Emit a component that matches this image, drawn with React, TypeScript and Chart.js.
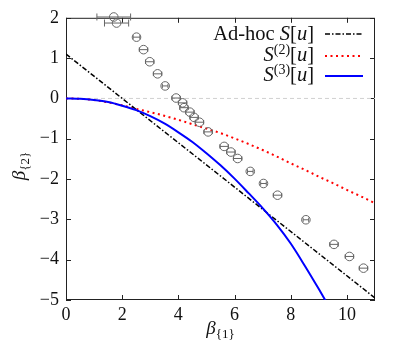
import React, { useEffect, useRef } from "react";
import { Chart, registerables } from "chart.js";

Chart.register(...registerables);

const X_TICKS = [0, 2, 4, 6, 8, 10];
const Y_TICKS = [-5, -4, -3, -2, -1, 0, 1, 2];

// Measured data points (beta1, beta2) with horizontal error bars
const dataX = [1.7, 1.8, 2.51, 2.76, 2.98, 3.26, 3.53, 3.92, 4.15, 4.2, 4.41, 4.56, 4.75, 5.06, 5.63, 5.87, 6.11, 6.56, 7.03, 7.53, 8.54, 9.54, 10.09, 10.59];
const dataY = [2.02, 1.87, 1.52, 1.21, 0.91, 0.61, 0.31, 0.01, -0.11, -0.23, -0.34, -0.47, -0.59, -0.83, -1.19, -1.33, -1.49, -1.81, -2.11, -2.4, -3.01, -3.62, -3.92, -4.21];
const dataXErr = [0.6, 0.43, 0.12, 0.15, 0.15, 0.15, 0.1, 0.15, 0.15, 0.15, 0.15, 0.15, 0.15, 0.15, 0.15, 0.15, 0.15, 0.1, 0.1, 0.15, 0.1, 0.15, 0.15, 0.15];

// Ad-hoc S[u]
const adhocX = [0, 11];
const adhocY = [1.1, -4.95];

// S^(2)[u]
const s2X = [0, 0.5, 1, 1.5, 2, 2.5, 3, 3.5, 4, 4.5, 5, 5.5, 6, 6.5, 7, 7.5, 8, 8.5, 9, 9.5, 10, 10.5, 11];
const s2Y = [0, -0.01, -0.04, -0.1, -0.17, -0.26, -0.34, -0.43, -0.53, -0.64, -0.75, -0.86, -0.99, -1.13, -1.28, -1.44, -1.61, -1.77, -1.94, -2.1, -2.27, -2.43, -2.6];

// S^(3)[u]
const s3X = [0, 0.5, 1, 1.5, 2, 2.5, 3, 3.5, 4, 4.5, 5, 5.5, 6, 6.5, 7, 7.5, 8, 8.5, 9, 9.5];
const s3Y = [0, -0.01, -0.04, -0.09, -0.18, -0.29, -0.44, -0.62, -0.84, -1.08, -1.36, -1.66, -1.99, -2.35, -2.72, -3.13, -3.6, -4.15, -4.73, -5.33];

const zeroX = [0, 11];
const zeroY = [0, 0];

const FAMILY = "'Liberation Serif', 'DejaVu Serif', serif";

type Seg = { t: string; it?: boolean; sz: number; dy?: number };

function drawRich(ctx: CanvasRenderingContext2D, segs: Seg[], x: number, y: number, align: "left" | "right" | "center") {
  const widths: number[] = [];
  let total = 0;
  segs.forEach((s) => {
    ctx.font = `${s.it ? "italic " : ""}${s.sz}px ${FAMILY}`;
    const w = ctx.measureText(s.t).width;
    widths.push(w);
    total += w;
  });
  let cx = align === "right" ? x - total : align === "center" ? x - total / 2 : x;
  ctx.textAlign = "left";
  ctx.textBaseline = "alphabetic";
  segs.forEach((s, i) => {
    ctx.font = `${s.it ? "italic " : ""}${s.sz}px ${FAMILY}`;
    ctx.fillText(s.t, cx, y + (s.dy || 0));
    cx += widths[i];
  });
}

const framePlugin = {
  id: "frame",
  beforeDatasetsDraw(chart: any) {
    const { ctx, chartArea: a, scales } = chart;
    ctx.save();
    ctx.strokeStyle = "#222";
    ctx.lineWidth = 1;
    ctx.strokeRect(a.left + 0.5, a.top + 0.5, a.right - a.left - 1, a.bottom - a.top - 1);
    const tl = 5;
    ctx.beginPath();
    X_TICKS.forEach((v) => {
      const px = Math.round(scales.x.getPixelForValue(v)) + 0.5;
      ctx.moveTo(px, a.bottom);
      ctx.lineTo(px, a.bottom - tl);
      ctx.moveTo(px, a.top);
      ctx.lineTo(px, a.top + tl);
    });
    Y_TICKS.forEach((v) => {
      const py = Math.round(scales.y.getPixelForValue(v)) + 0.5;
      ctx.moveTo(a.left, py);
      ctx.lineTo(a.left + tl, py);
      ctx.moveTo(a.right, py);
      ctx.lineTo(a.right - tl, py);
    });
    ctx.stroke();
    ctx.restore();
  },
  afterDatasetsDraw(chart: any) {
    const { ctx, scales } = chart;
    ctx.save();
    ctx.strokeStyle = "#666";
    ctx.lineWidth = 1;
    ctx.beginPath();
    dataX.forEach((x, i) => {
      const py = scales.y.getPixelForValue(dataY[i]);
      const x0 = scales.x.getPixelForValue(x - dataXErr[i]);
      const x1 = scales.x.getPixelForValue(x + dataXErr[i]);
      const cap = dataXErr[i] > 0.3 ? 3.5 : 2.2;
      ctx.moveTo(x0, py);
      ctx.lineTo(x1, py);
      ctx.moveTo(x0, py - cap);
      ctx.lineTo(x0, py + cap);
      ctx.moveTo(x1, py - cap);
      ctx.lineTo(x1, py + cap);
    });
    ctx.stroke();
    ctx.restore();
  },
  afterDraw(chart: any) {
    const { ctx, chartArea: a } = chart;
    ctx.save();
    ctx.fillStyle = "#111";
    // x title
    const cxm = (a.left + a.right) / 2;
    drawRich(ctx, [
      { t: "β", it: true, sz: 19 },
      { t: "{1}", sz: 13, dy: 4 },
    ], cxm, 334, "center");
    // y title
    ctx.save();
    ctx.translate(25, 166);
    ctx.rotate(-Math.PI / 2);
    drawRich(ctx, [
      { t: "β", it: true, sz: 19 },
      { t: "{2}", sz: 13, dy: 4 },
    ], 0, 0, "center");
    ctx.restore();

    // legend
    const tx = 314;
    const lx0 = 325;
    const lx1 = 363;
    const big = 20.5;
    const sup = 14;
    const rows = [
      { segs: [{ t: "Ad-hoc ", sz: big }, { t: "S", it: true, sz: big }, { t: "[", sz: big }, { t: "u", it: true, sz: big }, { t: "]", sz: big }], base: 40, ly: 34, color: "#000", dash: [5, 2, 1.5, 2], w: 1.5 },
      { segs: [{ t: "S", it: true, sz: big }, { t: "(2)", sz: sup, dy: -7 }, { t: "[", sz: big }, { t: "u", it: true, sz: big }, { t: "]", sz: big }], base: 61, ly: 56, color: "#ff0000", dash: [2, 3.5], w: 2 },
      { segs: [{ t: "S", it: true, sz: big }, { t: "(3)", sz: sup, dy: -7 }, { t: "[", sz: big }, { t: "u", it: true, sz: big }, { t: "]", sz: big }], base: 81, ly: 76, color: "#0000ff", dash: [], w: 2 },
    ];
    rows.forEach((r) => {
      ctx.fillStyle = "#111";
      drawRich(ctx, r.segs as Seg[], tx, r.base, "right");
      ctx.beginPath();
      ctx.strokeStyle = r.color;
      ctx.lineWidth = r.w;
      ctx.setLineDash(r.dash);
      ctx.moveTo(lx0, r.ly);
      ctx.lineTo(lx1, r.ly);
      ctx.stroke();
      ctx.setLineDash([]);
    });
    ctx.restore();
  },
};

const fmt = (v: number) => (v < 0 ? "\u2212" + Math.abs(v) : String(v));

export default function App() {
  const ref = useRef<HTMLCanvasElement | null>(null);
  useEffect(() => {
    document.body.style.margin = "0";
    const canvas = ref.current;
    if (!canvas) return;
    const chart = new Chart(canvas, {
      type: "line",
      data: {
        datasets: [
          {
            label: "data",
            type: "scatter",
            data: dataX.map((x, i) => ({ x, y: dataY[i] })),
            showLine: false,
            pointStyle: "circle",
            pointRadius: 4.3,
            pointBorderWidth: 1,
            pointBorderColor: "#666",
            pointBackgroundColor: "rgba(0,0,0,0)",
            clip: false,
            order: 0,
          } as any,
          {
            label: "S3",
            data: s3X.map((x, i) => ({ x, y: s3Y[i] })),
            borderColor: "#0000ff",
            borderWidth: 2,
            pointRadius: 0,
            cubicInterpolationMode: "monotone",
            order: 1,
          },
          {
            label: "adhoc",
            data: adhocX.map((x, i) => ({ x, y: adhocY[i] })),
            borderColor: "#000",
            borderWidth: 1.5,
            borderDash: [5, 2, 1.5, 2],
            pointRadius: 0,
            order: 2,
          },
          {
            label: "S2",
            data: s2X.map((x, i) => ({ x, y: s2Y[i] })),
            borderColor: "#ff0000",
            borderWidth: 2,
            borderDash: [2, 3.5],
            pointRadius: 0,
            cubicInterpolationMode: "monotone",
            order: 3,
          },
          {
            label: "zero",
            data: zeroX.map((x, i) => ({ x, y: zeroY[i] })),
            borderColor: "#d0d0d0",
            borderWidth: 1,
            borderDash: [4, 3],
            pointRadius: 0,
            order: 4,
          },
        ],
      },
      options: {
        animation: false,
        responsive: false,
        devicePixelRatio: 1,
        layout: { padding: { left: 0, top: 16, right: 24, bottom: 0 } },
        plugins: { legend: { display: false }, tooltip: { enabled: false } },
        scales: {
          x: {
            type: "linear",
            min: 0,
            max: 11,
            afterBuildTicks: (s: any) => {
              s.ticks = X_TICKS.map((v) => ({ value: v }));
            },
            afterFit: (s: any) => {
              s.height = 49;
            },
            grid: { display: false, drawTicks: false },
            border: { display: false },
            ticks: {
              padding: 4,
              color: "#111",
              font: { family: FAMILY, size: 18 },
              callback: (v: any) => fmt(Number(v)),
              maxRotation: 0,
            },
          },
          y: {
            type: "linear",
            min: -5,
            max: 2,
            afterBuildTicks: (s: any) => {
              s.ticks = Y_TICKS.map((v) => ({ value: v }));
            },
            afterFit: (s: any) => {
              s.width = 66;
            },
            grid: { display: false, drawTicks: false },
            border: { display: false },
            ticks: {
              padding: 7,
              color: "#111",
              font: { family: FAMILY, size: 18 },
              callback: (v: any) => fmt(Number(v)),
            },
          },
        },
      },
      plugins: [framePlugin],
    });
    return () => chart.destroy();
  }, []);
  return (
    <div style={{ width: 399, height: 349 }}>
      <canvas ref={ref} width={399} height={349} style={{ display: "block" }} />
    </div>
  );
}
